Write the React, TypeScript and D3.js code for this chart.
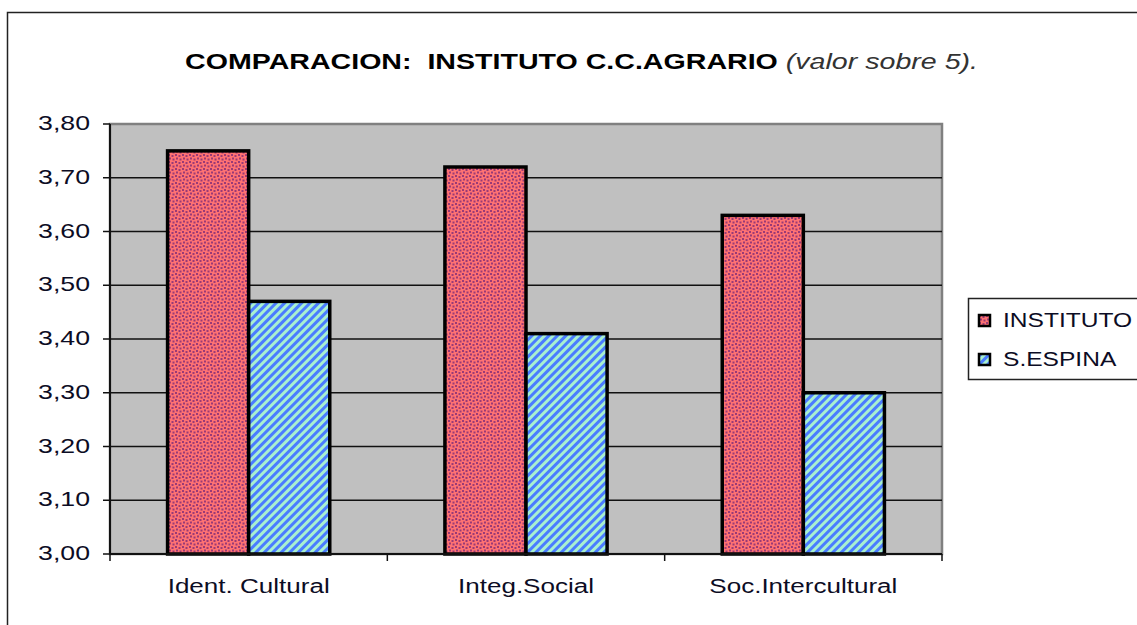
import { useEffect, useRef } from 'react';
import * as d3 from 'd3';

const categories = ['Ident. Cultural', 'Integ.Social', 'Soc.Intercultural'];
const series = ['INSTITUTO', 'S.ESPINA'];
const instituto = [3.75, 3.72, 3.63];
const espina = [3.47, 3.41, 3.3];
const yTicks = [3.0, 3.1, 3.2, 3.3, 3.4, 3.5, 3.6, 3.7, 3.8];

const W = 1137;
const H = 625;
const FONT = '"Liberation Sans", Arial, sans-serif';

type Sel = d3.Selection<any, unknown, null, undefined>;

// text is wider than a normal Arial in the source image, so stretch it horizontally
const addText = (
  parent: Sel,
  x: number,
  y: number,
  str: string,
  opts: { size: number; stretch: number; anchor?: string; weight?: string }
) => {
  const g = parent.append('g').attr('transform', `translate(${x},${y}) scale(${opts.stretch},1)`);
  return g
    .append('text')
    .attr('text-anchor', opts.anchor ?? 'start')
    .style('font-family', FONT)
    .style('font-size', `${opts.size}px`)
    .style('font-weight', opts.weight ?? 'normal')
    .attr('fill', '#0c0c24')
    .text(str);
};

export default function App() {
  const ref = useRef<SVGSVGElement | null>(null);

  useEffect(() => {
    if (!ref.current) return;
    const svg = d3.select(ref.current);
    svg.selectAll('*').remove();

    const margin = { top: 124, left: 110, right: 942, bottom: 554 };

    // patterns
    const defs = svg.append('defs');
    const dots = defs
      .append('pattern')
      .attr('id', 'dots')
      .attr('patternUnits', 'userSpaceOnUse')
      .attr('width', 7)
      .attr('height', 7);
    dots.append('rect').attr('width', 7).attr('height', 7).attr('fill', '#ff7272');
    [
      [1, 1],
      [4.5, 2],
      [2, 4.5],
      [5.5, 5.5]
    ].forEach(([x, y]) => {
      dots
        .append('rect')
        .attr('x', x - 1)
        .attr('y', y - 1)
        .attr('width', 2)
        .attr('height', 2)
        .attr('fill', '#9a3a76');
    });

    const stripes = defs
      .append('pattern')
      .attr('id', 'stripes')
      .attr('patternUnits', 'userSpaceOnUse')
      .attr('width', 6)
      .attr('height', 6)
      .attr('patternTransform', 'rotate(45)');
    stripes.append('rect').attr('width', 6).attr('height', 6).attr('fill', '#a8f0d0');
    stripes.append('rect').attr('width', 3).attr('height', 6).attr('fill', '#4a7cff');

    // outer frame
    svg
      .append('rect')
      .attr('x', 7.5)
      .attr('y', 12.5)
      .attr('width', W + 20)
      .attr('height', H + 20)
      .attr('fill', 'white')
      .attr('stroke', '#222')
      .attr('stroke-width', 1.5);

    const x0 = d3.scaleBand<string>().domain(categories).range([margin.left, margin.right]);
    const x1 = d3
      .scaleBand<string>()
      .domain(series)
      .range([0, x0.bandwidth()])
      .paddingInner(0)
      .paddingOuter(0.71);
    const y = d3.scaleLinear().domain([3.0, 3.8]).range([margin.bottom, margin.top]);

    // plot area
    svg
      .append('rect')
      .attr('x', margin.left)
      .attr('y', margin.top)
      .attr('width', margin.right - margin.left)
      .attr('height', margin.bottom - margin.top)
      .attr('fill', '#c0c0c0')
      .attr('stroke', '#808080')
      .attr('stroke-width', 2.5);

    // gridlines
    svg
      .append('g')
      .selectAll('line')
      .data(yTicks.slice(1, -1))
      .enter()
      .append('line')
      .attr('x1', margin.left)
      .attr('x2', margin.right)
      .attr('y1', (d) => y(d))
      .attr('y2', (d) => y(d))
      .attr('stroke', '#111')
      .attr('stroke-width', 1.5);

    // bars
    const values = [instituto, espina];
    const fills = ['url(#dots)', 'url(#stripes)'];
    categories.forEach((c, i) => {
      series.forEach((s, j) => {
        const v = values[j][i];
        svg
          .append('rect')
          .attr('x', (x0(c) as number) + (x1(s) as number))
          .attr('y', y(v))
          .attr('width', x1.bandwidth())
          .attr('height', y(3.0) - y(v))
          .attr('fill', fills[j])
          .attr('stroke', '#000')
          .attr('stroke-width', 3.5);
      });
    });

    // y axis
    const yAxis = svg.append('g');
    yAxis
      .append('line')
      .attr('x1', margin.left)
      .attr('x2', margin.left)
      .attr('y1', margin.top)
      .attr('y2', margin.bottom)
      .attr('stroke', '#111')
      .attr('stroke-width', 2);
    yTicks.forEach((t) => {
      yAxis
        .append('line')
        .attr('x1', margin.left - 7)
        .attr('x2', margin.left)
        .attr('y1', y(t))
        .attr('y2', y(t))
        .attr('stroke', '#111')
        .attr('stroke-width', 1.5);
      addText(yAxis, 90, y(t) + 6, d3.format('.2f')(t).replace('.', ','), {
        size: 21,
        stretch: 1.27,
        anchor: 'end'
      });
    });

    // x axis
    const xAxis = svg.append('g');
    xAxis
      .append('line')
      .attr('x1', margin.left)
      .attr('x2', margin.right)
      .attr('y1', margin.bottom)
      .attr('y2', margin.bottom)
      .attr('stroke', '#111')
      .attr('stroke-width', 2);
    [...categories.map((c) => x0(c) as number), margin.right].forEach((xv) => {
      xAxis
        .append('line')
        .attr('x1', xv)
        .attr('x2', xv)
        .attr('y1', margin.bottom)
        .attr('y2', margin.bottom + 7)
        .attr('stroke', '#111')
        .attr('stroke-width', 1.5);
    });
    categories.forEach((c) => {
      addText(xAxis, (x0(c) as number) + x0.bandwidth() / 2, 593, c, {
        size: 21,
        stretch: 1.24,
        anchor: 'middle'
      });
    });

    // title
    const tg = svg.append('g').attr('transform', 'translate(185,69) scale(1.3,1)');
    const title = tg
      .append('text')
      .style('font-family', FONT)
      .style('font-size', '22px')
      .attr('fill', '#000');
    title
      .append('tspan')
      .attr('font-weight', 'bold')
      .text('COMPARACION:\u00a0\u00a0INSTITUTO C.C.AGRARIO\u00a0');
    title
      .append('tspan')
      .attr('font-style', 'italic')
      .attr('fill', '#333')
      .text('(valor sobre 5).');

    // legend
    const legend = svg.append('g');
    legend
      .append('rect')
      .attr('x', 968.5)
      .attr('y', 298.5)
      .attr('width', 200)
      .attr('height', 81)
      .attr('fill', 'white')
      .attr('stroke', '#222')
      .attr('stroke-width', 1.5);
    series.forEach((s, j) => {
      const g = legend.append('g').attr('transform', `translate(979,${315 + j * 39})`);
      g.append('rect')
        .attr('width', 11)
        .attr('height', 11)
        .attr('fill', fills[j])
        .attr('stroke', '#000')
        .attr('stroke-width', 2.5);
      addText(g, 24, 12, s, { size: 21, stretch: 1.17 });
    });
  }, []);

  return (
    <svg
      ref={ref}
      width={W}
      height={H}
      style={{ position: 'absolute', left: 0, top: 0, background: 'white' }}
    />
  );
}
